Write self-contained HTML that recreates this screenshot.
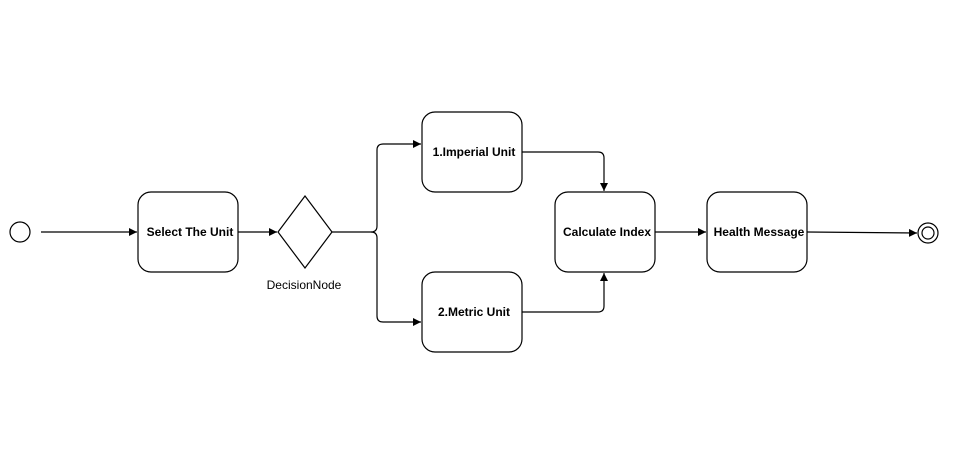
<!DOCTYPE html>
<html><head><style>html,body{margin:0;padding:0;background:#fff;}</style></head><body>
<svg width="970" height="456" viewBox="0 0 970 456" xmlns="http://www.w3.org/2000/svg" font-family="Liberation Sans, Arial, sans-serif">
<defs><marker id="a" markerWidth="10" markerHeight="10" refX="8" refY="4" orient="auto" markerUnits="userSpaceOnUse"><path d="M0,0 L8,4 L0,8 Z" fill="#000"/></marker></defs>
<g fill="none" stroke="#000" stroke-width="1.2">
<circle cx="20" cy="232" r="10"/>
<line x1="41" y1="232" x2="137" y2="232" marker-end="url(#a)"/>
<rect x="138" y="192" width="100" height="80" rx="13"/>
<line x1="238" y1="232" x2="277" y2="232" marker-end="url(#a)"/>
<polygon points="305,196 332,232 305,268 278,232"/>
<path d="M332,232 H371 Q377,232 377,226 V150 Q377,144 383,144 H421" marker-end="url(#a)"/>
<path d="M371,232 Q377,232 377,238 V316 Q377,322 383,322 H421" marker-end="url(#a)"/>
<rect x="422" y="112" width="100" height="80" rx="13"/>
<rect x="422" y="272" width="100" height="80" rx="13"/>
<rect x="555" y="192" width="100" height="80" rx="13"/>
<path d="M522,152 H598 Q604,152 604,158 V191" marker-end="url(#a)"/>
<path d="M522,312 H598 Q604,312 604,306 V273" marker-end="url(#a)"/>
<line x1="655" y1="232" x2="706" y2="232" marker-end="url(#a)"/>
<rect x="707" y="192" width="100" height="80" rx="13"/>
<line x1="807" y1="232" x2="917" y2="233" marker-end="url(#a)"/>
<circle cx="928" cy="233" r="10"/>
<circle cx="928" cy="233" r="6"/>
</g>
<g font-size="12" font-weight="bold" text-anchor="middle" fill="#000">
<text x="190" y="236">Select The Unit</text>
<text x="474" y="156">1.Imperial Unit</text>
<text x="474" y="316">2.Metric Unit</text>
<text x="607" y="236">Calculate Index</text>
<text x="759" y="236">Health Message</text>
</g>
<text x="304" y="289" font-size="12" text-anchor="middle">DecisionNode</text>
</svg>
</body></html>
